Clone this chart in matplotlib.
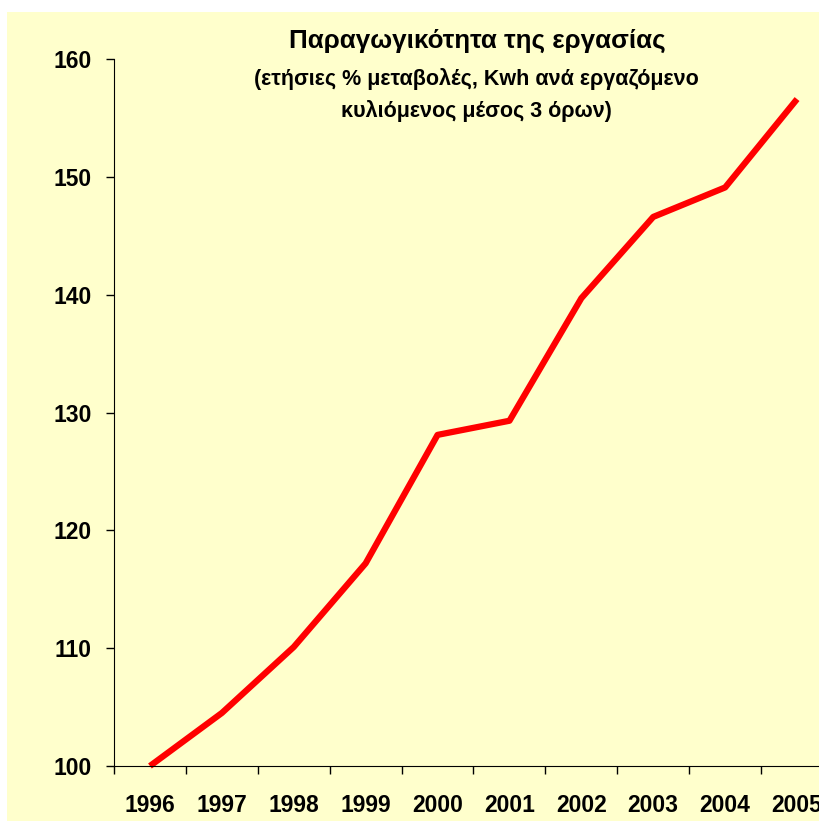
import matplotlib.pyplot as plt
from matplotlib.patches import Rectangle

years = ['1996', '1997', '1998', '1999', '2000', '2001', '2002', '2003', '2004', '2005']
productivity = [100.0, 104.5, 110.1, 117.2, 128.1, 129.3, 139.7, 146.6, 149.1, 156.6]

plt.rcParams['font.family'] = ['Liberation Sans', 'DejaVu Sans']
plt.rcParams['font.weight'] = 'bold'

bg = '#FFFFCC'
fig = plt.figure(figsize=(8.2, 8.21), dpi=100)
fig.patches.append(Rectangle((7 / 820, 0), 1, (821 - 12) / 821, transform=fig.transFigure,
                             facecolor=bg, edgecolor='none', zorder=-10))

ax = fig.add_axes([114 / 820, 55 / 821, 719 / 820, 707 / 821])
ax.set_facecolor('none')
x = range(len(years))
ax.plot(x, productivity, color='#FF0000', linewidth=4.5, solid_capstyle='butt', clip_on=False)

ax.set_xlim(-0.5, len(years) - 0.5)
ax.set_ylim(100, 160)
ax.set_yticks(range(100, 161, 10))
ax.set_xticks([i - 0.5 for i in range(len(years))])
ax.set_xticklabels([])
ax.set_xticks(list(x), minor=True)
ax.set_xticklabels(years, minor=True)
ax.tick_params(axis='x', which='minor', length=0, pad=20, labelsize=16.5)
ax.tick_params(axis='x', which='major', direction='out', length=6, width=1)
ax.tick_params(axis='y', direction='out', length=6, width=1, labelsize=16.5, pad=10)
for s in ['top', 'right']:
    ax.spines[s].set_visible(False)

fig.text(477 / 820, 1 - 41 / 821, 'Παραγωγικότητα της εργασίας', ha='center', va='center',
         fontsize=18.7, fontweight='bold')
fig.text(476 / 820, 1 - 79 / 821, '(ετήσιες % μεταβολές, Kwh ανά εργαζόμενο', ha='center', va='center',
         fontsize=15.5, fontweight='bold')
fig.text(476 / 820, 1 - 111 / 821, 'κυλιόμενος μέσος 3 όρων)', ha='center', va='center',
         fontsize=15.5, fontweight='bold')

fig.savefig('out.png', dpi=100)
